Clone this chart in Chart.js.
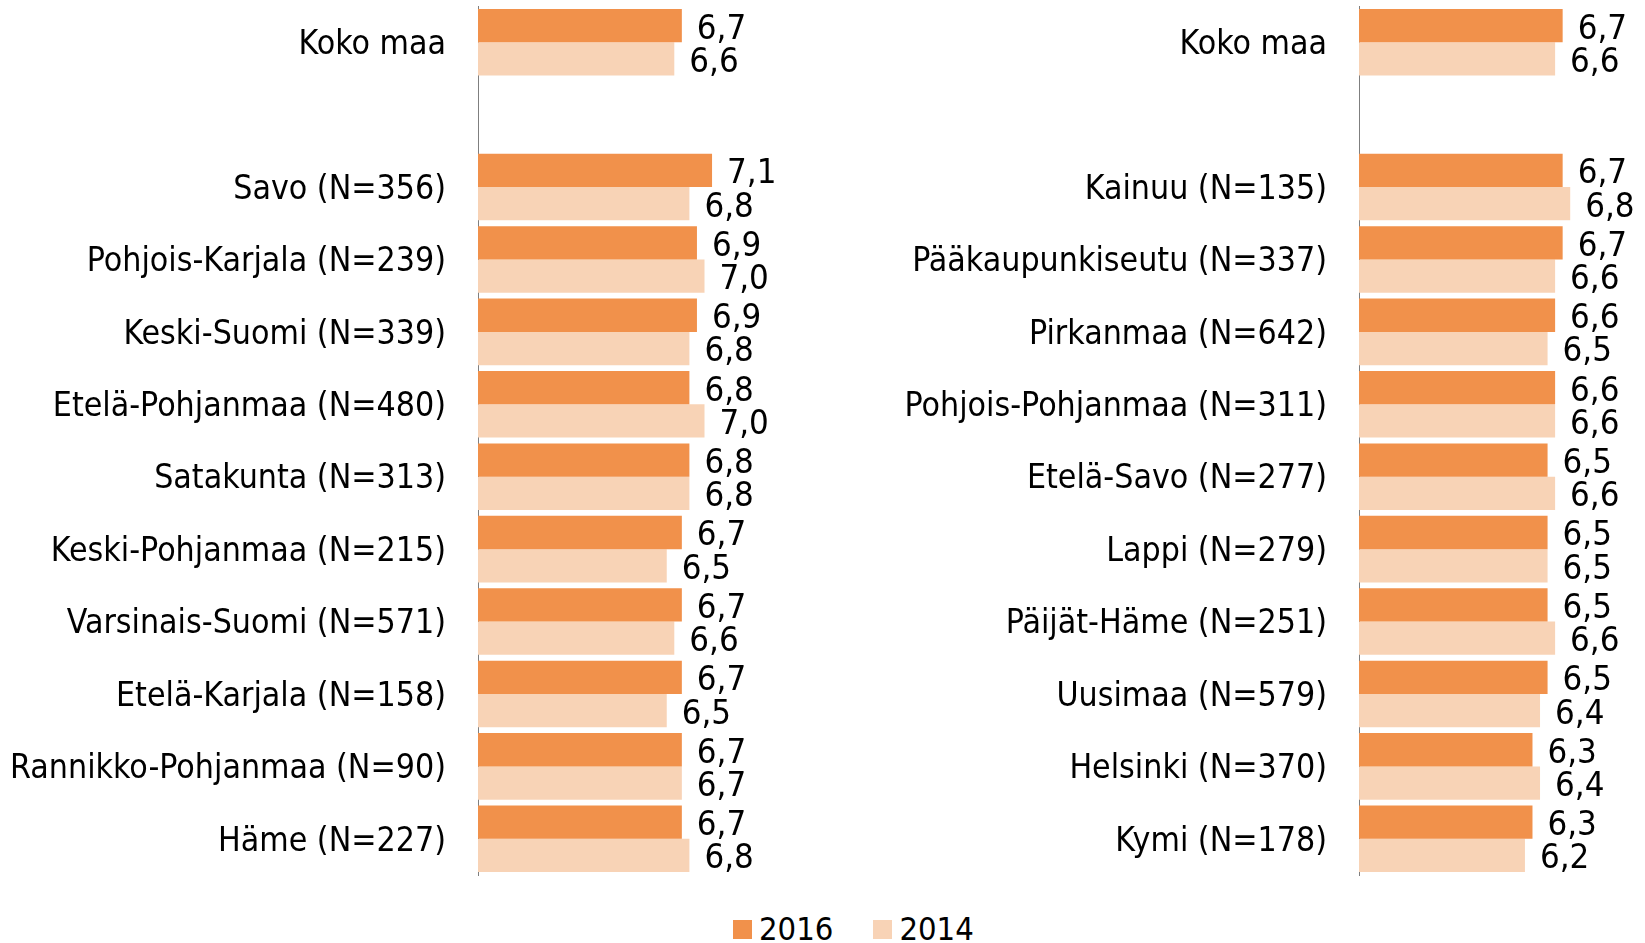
<!DOCTYPE html>
<html>
<head>
<meta charset="utf-8">
<script src="https://cdn.jsdelivr.net/npm/chart.js@4"></script>
<style>
  body { margin: 0; background: #fff; width: 1645px; height: 943px; position: relative; overflow: hidden; }
  canvas { position: absolute; top: 0; }
  #legend { position: absolute; left: 733px; top: 910px; font: 32.5px 'DejaVu Sans Condensed', 'DejaVu Sans'; color: #000; display: flex; align-items: center; }
  #legend span.box { display: inline-block; width: 19px; height: 19px; margin-right: 7px; }
  #legend span.txt { margin-right: 40px; }
</style>
</head>
<body>
<canvas id="leftChart" width="830" height="880" style="left:0px"></canvas>
<canvas id="rightChart" width="805" height="880" style="left:840px"></canvas>
<div id="legend"></div>

<script>
var leftLabels = ['Koko maa', '', 'Savo (N=356)', 'Pohjois-Karjala (N=239)', 'Keski-Suomi (N=339)',
  'Etelä-Pohjanmaa (N=480)', 'Satakunta (N=313)', 'Keski-Pohjanmaa (N=215)', 'Varsinais-Suomi (N=571)',
  'Etelä-Karjala (N=158)', 'Rannikko-Pohjanmaa (N=90)', 'Häme (N=227)'];
var left2016 = [6.7, null, 7.1, 6.9, 6.9, 6.8, 6.8, 6.7, 6.7, 6.7, 6.7, 6.7];
var left2014 = [6.6, null, 6.8, 7.0, 6.8, 7.0, 6.8, 6.5, 6.6, 6.5, 6.7, 6.8];

var rightLabels = ['Koko maa', '', 'Kainuu (N=135)', 'Pääkaupunkiseutu (N=337)', 'Pirkanmaa (N=642)',
  'Pohjois-Pohjanmaa (N=311)', 'Etelä-Savo (N=277)', 'Lappi (N=279)', 'Päijät-Häme (N=251)',
  'Uusimaa (N=579)', 'Helsinki (N=370)', 'Kymi (N=178)'];
var right2016 = [6.7, null, 6.7, 6.7, 6.6, 6.6, 6.5, 6.5, 6.5, 6.5, 6.3, 6.3];
var right2014 = [6.6, null, 6.8, 6.6, 6.5, 6.6, 6.6, 6.5, 6.6, 6.4, 6.4, 6.2];

var seriesNames = ['2016', '2014'];
var colors = ['#F1914B', '#F8D3B6'];
var FONT = "'DejaVu Sans Condensed', 'DejaVu Sans', sans-serif";

// draws the value next to the end of every bar
var valueLabels = {
  id: 'valueLabels',
  afterDatasetsDraw: function(chart) {
    var ctx = chart.ctx;
    ctx.save();
    ctx.font = '34.5px ' + FONT;
    ctx.fillStyle = '#000';
    ctx.textAlign = 'left';
    ctx.textBaseline = 'middle';
    chart.data.datasets.forEach(function(ds, i) {
      chart.getDatasetMeta(i).data.forEach(function(bar, j) {
        var v = ds.data[j];
        if (v === null) return;
        ctx.fillText(v.toFixed(1).replace('.', ','), bar.x + 15, bar.y + 4);
      });
    });
    ctx.restore();
  }
};

function makeChart(id, labels, d2016, d2014, axisWidth, xMax, padRight) {
  var ctx = document.getElementById(id).getContext('2d');
  return new Chart(ctx, {
    type: 'bar',
    data: {
      labels: labels,
      datasets: [{
        label: seriesNames[0],
        backgroundColor: colors[0],
        data: d2016
      }, {
        label: seriesNames[1],
        backgroundColor: colors[1],
        data: d2014
      }]
    },
    plugins: [valueLabels],
    options: {
      indexAxis: 'y',
      responsive: false,
      animation: false,
      layout: { padding: { top: 6, bottom: 5, left: 0, right: padRight } },
      datasets: { bar: { categoryPercentage: 0.92, barPercentage: 1.0 } },
      plugins: { legend: { display: false }, tooltip: { enabled: false } },
      scales: {
        x: { display: false, min: 4, max: xMax },
        y: {
          grid: { display: false, drawTicks: false },
          border: { display: true, color: '#7f7f7f', width: 1 },
          ticks: { color: '#000', padding: 32, labelOffset: 3, font: { family: FONT, size: 33.6 } },
          afterFit: function(scale) {
            // fixed label column, and no extra vertical padding from the tick labels
            scale.width = axisWidth;
            scale.paddingTop = 0;
            scale.paddingBottom = 0;
          }
        }
      }
    }
  });
}

makeChart('leftChart', leftLabels, left2016, left2014, 478, 8, 50);
makeChart('rightChart', rightLabels, right2016, right2014, 519, 7.5, 22);

// shared legend under both panels
var legend = document.getElementById('legend');
seriesNames.forEach(function(name, i) {
  legend.innerHTML += '<span class="box" style="background:' + colors[i] + '"></span><span class="txt">' + name + '</span>';
});
</script>
</body>
</html>
